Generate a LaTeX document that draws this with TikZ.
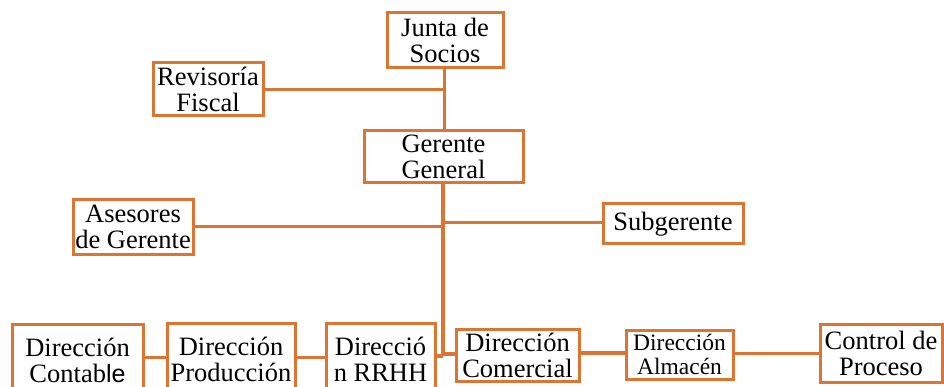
\documentclass[tikz,border=0pt]{standalone}
\usepackage{fontspec}
\setmainfont{Liberation Serif}
\newfontfamily\sansf{Liberation Sans}
\definecolor{org}{RGB}{222,116,50}
\begin{document}
\begin{tikzpicture}[x=1pt,y=-1pt,
  box/.style={draw=org,line width=3pt,fill=white,inner sep=0pt,align=center,
    font=\fontsize{26.5}{26}\selectfont},
  ln/.style={draw=org,line width=3pt},
  thk/.style={draw=org,line width=4.2pt}]
\useasboundingbox (0,0) rectangle (944,387);
\clip (0,0) rectangle (944,387);
\coordinate (jt) at (444,68);
\coordinate (rv) at (444,90);
\coordinate (as) at (443,227);
\coordinate (sg) at (445,223);
\coordinate (bt) at (443,356);
\node[box,minimum width=116pt,minimum height=55pt] (junta) at (445,40.5) {Junta de\\Socios};
\node[box,minimum width=110pt,minimum height=53pt] (revisoria) at (208,89.5) {Revisoría\\Fiscal};
\node[box,minimum width=159pt,minimum height=52pt] (gerente) at (443.5,157) {Gerente\\General};
\node[box,minimum width=120pt,minimum height=54pt] (asesores) at (133,227) {Asesores\\de Gerente};
\node[box,minimum width=140pt,minimum height=40pt] (subgerente) at (673,224) {Subgerente};
\node[box,minimum width=131pt,minimum height=72pt] (contable) at (77.5,360) {Dirección\\Contab{\sansf\fontsize{25}{26}\selectfont le}};
\node[box,minimum width=128pt,minimum height=72pt] (produccion) at (231,359) {Dirección\\Producción};
\node[box,minimum width=109pt,minimum height=72pt] (rrhh) at (380.5,359) {Direcció\\n RRHH};
\node[box,minimum width=123pt,minimum height=52pt] (comercial) at (517.5,355) {Dirección\\Comercial};
\node[box,minimum width=107pt,minimum height=49pt,font=\fontsize{23.5}{24}\selectfont] (almacen) at (679.5,354.5) {Dirección\\Almacén};
\node[box,minimum width=122pt,minimum height=58pt] (control) at (881,353) {Control de\\Proceso};
\draw[ln] (junta.south -| jt) -- (gerente.north -| jt);
\draw[ln] (revisoria.east |- rv) -- (rv);
\draw[thk] (gerente.south -| bt) -- (bt);
\draw[ln] (asesores.east |- as) -- (as);
\draw[ln] (sg) -- (subgerente.west |- sg);
\draw[thk] (rrhh.east |- bt) -- (bt);
\draw[thk] (bt) -- ++(0,-2) -- (comercial.west |- 0,354);
\draw[ln] (contable.east |- 0,357) -- (produccion.west |- 0,357);
\draw[ln] (produccion.east |- 0,357) -- (rrhh.west |- 0,357);
\draw[thk] (comercial.east |- 0,353) -- (almacen.west |- 0,353);
\draw[ln] (almacen.east |- 0,353) -- (control.west |- 0,353);
\end{tikzpicture}
\end{document}
